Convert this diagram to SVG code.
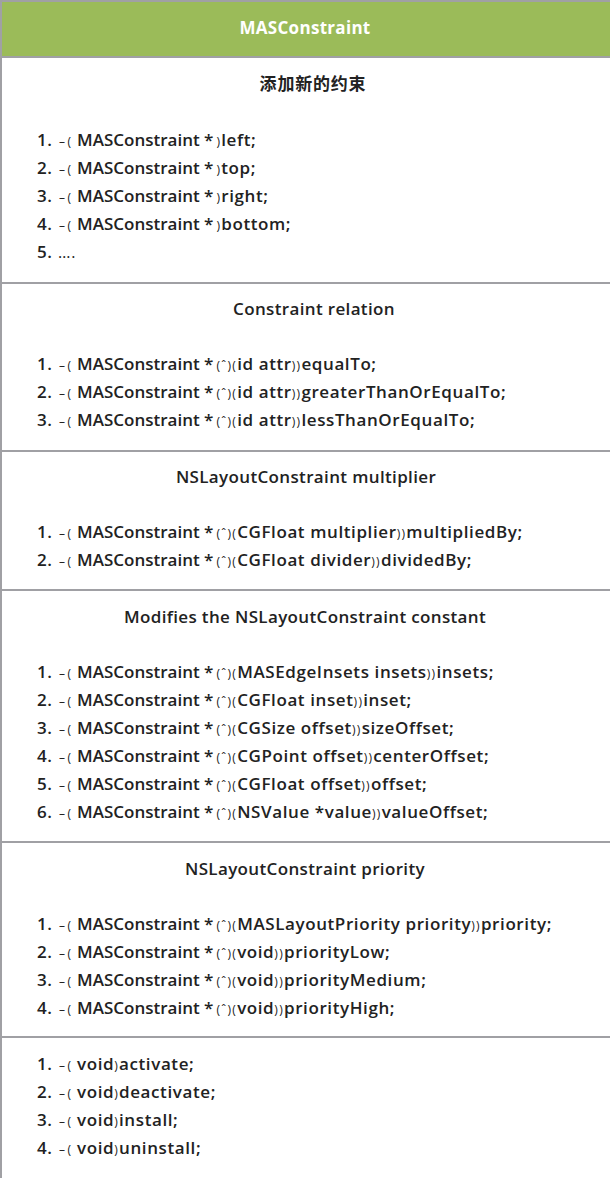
<svg xmlns="http://www.w3.org/2000/svg" width="610" height="1178" viewBox="0 0 610 1178">
<style>
.bg{fill:#ffffff}
.hdr{fill:#9bbb59}
.ln{stroke:#a0a0a4;stroke-width:2;fill:none}
.t{font-family:"Open Sans","Noto Sans","Noto Sans CJK SC",sans-serif;font-size:17px;font-weight:600;fill:#222222;letter-spacing:0.6px}
.m{letter-spacing:0px}
.s{font-size:12px;font-weight:400;letter-spacing:1.3px}
.d{font-size:12px;font-weight:400;letter-spacing:2.5px}
.ttl{font-family:"Open Sans","Noto Sans","Noto Sans CJK SC",sans-serif;font-size:17px;font-weight:600;fill:#222222;text-anchor:middle;letter-spacing:0.35px}
.cjk{letter-spacing:0.8px}
.h{font-family:"Open Sans","Noto Sans",sans-serif;font-size:17px;font-weight:700;fill:#ffffff;text-anchor:middle;letter-spacing:0.3px}
</style>
<rect class="bg" x="0" y="0" width="610" height="1178"/>
<g id="header">
<rect class="hdr" x="0" y="1" width="610" height="56"/>
<text class="h" x="305" y="34">MASConstraint</text>
</g>
<g id="connectors">
<line class="ln" x1="0" y1="1" x2="610" y2="1"/>
<line class="ln" x1="1" y1="0" x2="1" y2="1178"/>
<line class="ln" x1="0" y1="57" x2="610" y2="57"/>
<line class="ln" x1="0" y1="283" x2="610" y2="283"/>
<line class="ln" x1="0" y1="451" x2="610" y2="451"/>
<line class="ln" x1="0" y1="590" x2="610" y2="590"/>
<line class="ln" x1="0" y1="842" x2="610" y2="842"/>
<line class="ln" x1="0" y1="1037" x2="610" y2="1037"/>
</g>
<g id="section-add">
<text class="ttl cjk" x="313" y="90">添加新的约束</text>
<text class="t" y="146"><tspan x="37">1.</tspan><tspan class="d" x="59">–(</tspan><tspan class="m" x="77">MASConstraint *</tspan><tspan class="s" dx="3">)</tspan>left;</text>
<text class="t" y="174"><tspan x="37">2.</tspan><tspan class="d" x="59">–(</tspan><tspan class="m" x="77">MASConstraint *</tspan><tspan class="s" dx="3">)</tspan>top;</text>
<text class="t" y="202"><tspan x="37">3.</tspan><tspan class="d" x="59">–(</tspan><tspan class="m" x="77">MASConstraint *</tspan><tspan class="s" dx="3">)</tspan>right;</text>
<text class="t" y="230"><tspan x="37">4.</tspan><tspan class="d" x="59">–(</tspan><tspan class="m" x="77">MASConstraint *</tspan><tspan class="s" dx="3">)</tspan>bottom;</text>
<text class="t" y="258"><tspan x="37">5.</tspan><tspan x="58" font-weight="400" font-size="16" letter-spacing="0.8">….</tspan></text>
</g>
<g id="section-relation">
<text class="ttl" x="314" y="315">Constraint relation</text>
<text class="t" y="370"><tspan x="37">1.</tspan><tspan class="d" x="59">–(</tspan><tspan class="m" x="77">MASConstraint *</tspan><tspan class="s" dx="3">(ˆ)(</tspan>id attr<tspan class="s">))</tspan>equalTo;</text>
<text class="t" y="398"><tspan x="37">2.</tspan><tspan class="d" x="59">–(</tspan><tspan class="m" x="77">MASConstraint *</tspan><tspan class="s" dx="3">(ˆ)(</tspan>id attr<tspan class="s">))</tspan>greaterThanOrEqualTo;</text>
<text class="t" y="426"><tspan x="37">3.</tspan><tspan class="d" x="59">–(</tspan><tspan class="m" x="77">MASConstraint *</tspan><tspan class="s" dx="3">(ˆ)(</tspan>id attr<tspan class="s">))</tspan>lessThanOrEqualTo;</text>
</g>
<g id="section-multiplier">
<text class="ttl" x="306" y="483">NSLayoutConstraint multiplier</text>
<text class="t" y="538"><tspan x="37">1.</tspan><tspan class="d" x="59">–(</tspan><tspan class="m" x="77">MASConstraint *</tspan><tspan class="s" dx="3">(ˆ)(</tspan>CGFloat multiplier<tspan class="s">))</tspan>multipliedBy;</text>
<text class="t" y="566"><tspan x="37">2.</tspan><tspan class="d" x="59">–(</tspan><tspan class="m" x="77">MASConstraint *</tspan><tspan class="s" dx="3">(ˆ)(</tspan>CGFloat divider<tspan class="s">))</tspan>dividedBy;</text>
</g>
<g id="section-constant">
<text class="ttl" x="305" y="623">Modifies the NSLayoutConstraint constant</text>
<text class="t" y="678"><tspan x="37">1.</tspan><tspan class="d" x="59">–(</tspan><tspan class="m" x="77">MASConstraint *</tspan><tspan class="s" dx="3">(ˆ)(</tspan>MASEdgeInsets insets<tspan class="s">))</tspan>insets;</text>
<text class="t" y="706"><tspan x="37">2.</tspan><tspan class="d" x="59">–(</tspan><tspan class="m" x="77">MASConstraint *</tspan><tspan class="s" dx="3">(ˆ)(</tspan>CGFloat inset<tspan class="s">))</tspan>inset;</text>
<text class="t" y="734"><tspan x="37">3.</tspan><tspan class="d" x="59">–(</tspan><tspan class="m" x="77">MASConstraint *</tspan><tspan class="s" dx="3">(ˆ)(</tspan>CGSize offset<tspan class="s">))</tspan>sizeOffset;</text>
<text class="t" y="762"><tspan x="37">4.</tspan><tspan class="d" x="59">–(</tspan><tspan class="m" x="77">MASConstraint *</tspan><tspan class="s" dx="3">(ˆ)(</tspan>CGPoint offset<tspan class="s">))</tspan>centerOffset;</text>
<text class="t" y="790"><tspan x="37">5.</tspan><tspan class="d" x="59">–(</tspan><tspan class="m" x="77">MASConstraint *</tspan><tspan class="s" dx="3">(ˆ)(</tspan>CGFloat offset<tspan class="s">))</tspan>offset;</text>
<text class="t" y="818"><tspan x="37">6.</tspan><tspan class="d" x="59">–(</tspan><tspan class="m" x="77">MASConstraint *</tspan><tspan class="s" dx="3">(ˆ)(</tspan>NSValue *value<tspan class="s">))</tspan>valueOffset;</text>
</g>
<g id="section-priority">
<text class="ttl" x="305" y="875">NSLayoutConstraint priority</text>
<text class="t" y="930"><tspan x="37">1.</tspan><tspan class="d" x="59">–(</tspan><tspan class="m" x="77">MASConstraint *</tspan><tspan class="s" dx="3">(ˆ)(</tspan>MASLayoutPriority priority<tspan class="s">))</tspan>priority;</text>
<text class="t" y="958"><tspan x="37">2.</tspan><tspan class="d" x="59">–(</tspan><tspan class="m" x="77">MASConstraint *</tspan><tspan class="s" dx="3">(ˆ)(</tspan>void<tspan class="s">))</tspan>priorityLow;</text>
<text class="t" y="986"><tspan x="37">3.</tspan><tspan class="d" x="59">–(</tspan><tspan class="m" x="77">MASConstraint *</tspan><tspan class="s" dx="3">(ˆ)(</tspan>void<tspan class="s">))</tspan>priorityMedium;</text>
<text class="t" y="1014"><tspan x="37">4.</tspan><tspan class="d" x="59">–(</tspan><tspan class="m" x="77">MASConstraint *</tspan><tspan class="s" dx="3">(ˆ)(</tspan>void<tspan class="s">))</tspan>priorityHigh;</text>
</g>
<g id="section-lifecycle">
<text class="t" y="1070"><tspan x="37">1.</tspan><tspan class="d" x="59">–(</tspan><tspan x="77">void</tspan><tspan class="s">)</tspan>activate;</text>
<text class="t" y="1098"><tspan x="37">2.</tspan><tspan class="d" x="59">–(</tspan><tspan x="77">void</tspan><tspan class="s">)</tspan>deactivate;</text>
<text class="t" y="1126"><tspan x="37">3.</tspan><tspan class="d" x="59">–(</tspan><tspan x="77">void</tspan><tspan class="s">)</tspan>install;</text>
<text class="t" y="1154"><tspan x="37">4.</tspan><tspan class="d" x="59">–(</tspan><tspan x="77">void</tspan><tspan class="s">)</tspan>uninstall;</text>
</g>
</svg>
